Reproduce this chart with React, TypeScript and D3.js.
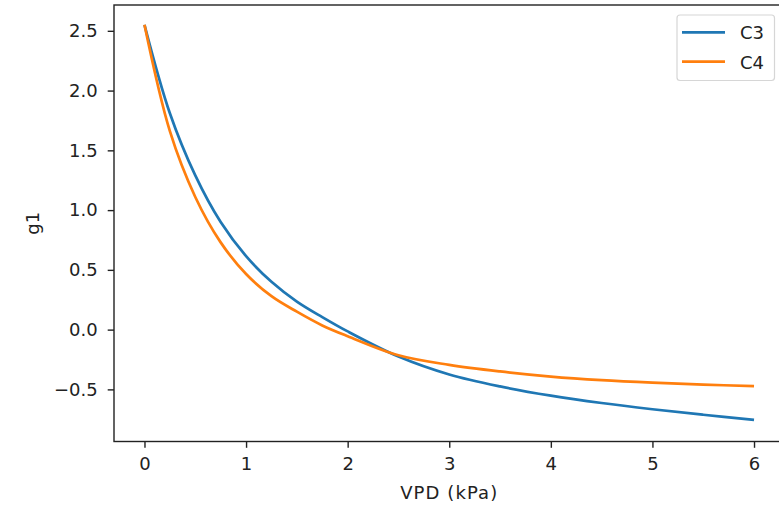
import React, { useEffect, useRef } from 'react';
import * as d3 from 'd3';

// readings
const vpd = [0, 0.25, 0.5, 0.75, 1, 1.25, 1.5, 1.75, 2, 2.5, 3, 3.5, 4, 4.5, 5, 5.5, 6];
const c3 = [2.55, 1.81, 1.29, 0.9, 0.615, 0.4, 0.235, 0.105, -0.015, -0.225, -0.375, -0.475, -0.552, -0.614, -0.666, -0.712, -0.755];
const c4 = [2.55, 1.66, 1.11, 0.73, 0.465, 0.28, 0.15, 0.035, -0.055, -0.215, -0.295, -0.35, -0.393, -0.423, -0.444, -0.46, -0.472];
const series = [
  { name: 'C3', values: c3, color: '#1f77b4' },
  { name: 'C4', values: c4, color: '#ff7f0e' },
];
const xTicks = [0, 1, 2, 3, 4, 5, 6];
const yTicks = [-0.5, 0, 0.5, 1, 1.5, 2, 2.5];

const W = 779;
const H = 507;
const FONT = '"DejaVu Sans", sans-serif';
const INK = '#222';

export default function App() {
  const ref = useRef<SVGSVGElement>(null);

  useEffect(() => {
    const svg = d3.select(ref.current);
    svg.selectAll('*').remove();

    const left = 114, right = 784.5, top = 5, bottom = 441.5;
    const x = d3.scaleLinear().domain([-0.3, 6.3]).range([left, right]);
    const y = d3.scaleLinear().domain([-0.936, 2.716]).range([bottom, top]);

    const line = d3.line<number>()
      .x((d, i) => x(vpd[i]))
      .y((d) => y(d))
      .curve(d3.curveCatmullRom.alpha(0.5));

    series.forEach((s) => {
      svg.append('path')
        .attr('d', line(s.values))
        .attr('fill', 'none')
        .attr('stroke', s.color)
        .attr('stroke-width', 2.7);
    });

    // x axis
    const gx = svg.append('g')
      .attr('transform', `translate(0,${bottom})`)
      .call(d3.axisBottom(x).tickValues(xTicks).tickSize(6.3).tickPadding(9).tickFormat(d3.format('d')));
    // y axis
    const gy = svg.append('g')
      .attr('transform', `translate(${left},0)`)
      .call(d3.axisLeft(y).tickValues(yTicks).tickSize(6.3).tickPadding(10)
        .tickFormat((d) => d3.format('.1f')(d as number).replace('-', '\u2212')));

    [gx, gy].forEach((g) => {
      g.select('.domain').remove();
      g.selectAll('line').attr('stroke', INK).attr('stroke-width', 1.4);
      g.selectAll('text').attr('font-family', FONT).attr('font-size', 18).attr('fill', INK);
    });

    // spines
    svg.append('rect')
      .attr('x', left).attr('y', top)
      .attr('width', right - left).attr('height', bottom - top)
      .attr('fill', 'none').attr('stroke', INK).attr('stroke-width', 1.4);

    svg.append('text')
      .attr('x', (left + right) / 2).attr('y', 499)
      .attr('text-anchor', 'middle')
      .attr('letter-spacing', 1.1)
      .attr('font-family', FONT).attr('font-size', 18).attr('fill', INK)
      .text('VPD (kPa)');

    svg.append('text')
      .attr('transform', `translate(39,${(top + bottom) / 2}) rotate(-90)`)
      .attr('text-anchor', 'middle')
      .attr('font-family', FONT).attr('font-size', 18).attr('fill', INK)
      .text('g1');

    // legend
    const lg = svg.append('g');
    lg.append('rect')
      .attr('x', 677).attr('y', 15).attr('width', 97.5).attr('height', 65.5)
      .attr('rx', 3).attr('fill', 'white').attr('fill-opacity', 0.8)
      .attr('stroke', '#d6d6d6').attr('stroke-width', 1.2);
    series.forEach((s, i) => {
      const cy = 32.3 + i * 29.4;
      lg.append('line')
        .attr('x1', 682).attr('x2', 725).attr('y1', cy).attr('y2', cy)
        .attr('stroke', s.color).attr('stroke-width', 2.7);
      lg.append('text')
        .attr('x', 740).attr('y', cy + 6.8)
        .attr('font-family', FONT).attr('font-size', 18).attr('fill', INK)
        .text(s.name);
    });
  }, []);

  return (
    <svg ref={ref} width={W} height={H}
      style={{ position: 'absolute', left: 0, top: 0, background: 'white' }} />
  );
}
